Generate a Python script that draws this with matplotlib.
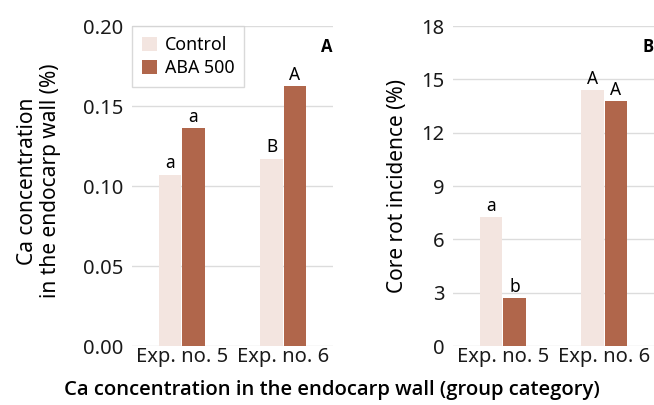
import numpy as np
import matplotlib
matplotlib.use("Agg")
import matplotlib.pyplot as plt

plt.rcParams['font.family'] = ['Noto Sans', 'DejaVu Sans']

# ===============================
# Data
# ===============================
groups = ["Exp. no. 5", "Exp. no. 6"]
series = ["Control", "ABA 500"]
ca_control = [0.107, 0.117]
ca_aba = [0.136, 0.1625]
ca_letters_control = ["a", "B"]
ca_letters_aba = ["a", "A"]
rot_control = [7.27, 14.4]
rot_aba = [2.7, 13.8]
rot_letters_control = ["a", "A"]
rot_letters_aba = ["b", "A"]

c_control = "#F3E5E0"
c_aba = "#B0664B"
grid_c = "#DCDCDC"
w = 0.225


def draw_panel(ax, ctrl, aba, let_c, let_a, ymax, yticks, fmt, offset, tag):
    x = np.arange(len(groups))
    b1 = ax.bar(x - w / 2 - 0.003, ctrl, w, color=c_control, label=series[0], zorder=2)
    b2 = ax.bar(x + w / 2 + 0.003, aba, w, color=c_aba, label=series[1], zorder=2)
    for bars, lets in ((b1, let_c), (b2, let_a)):
        for r, t in zip(bars, lets):
            ax.text(r.get_x() + r.get_width() / 2, r.get_height() + offset, t,
                    ha="center", va="bottom", fontsize=12.5)
    ax.set_xlim(-0.49, 1.49)
    ax.set_ylim(0, ymax)
    ax.set_yticks(yticks)
    ax.set_yticklabels([fmt.format(v) for v in yticks])
    ax.set_xticks(x)
    ax.set_xticklabels(groups)
    ax.grid(axis="y", color=grid_c, linewidth=1, zorder=0)
    for s in ax.spines.values():
        s.set_visible(False)
    ax.tick_params(length=0, labelsize=14.5, colors="#1a1a1a")
    ax.tick_params(axis="y", pad=6)
    ax.tick_params(axis="x", pad=1)
    ax.text(0.97, 0.935, tag, transform=ax.transAxes, ha="center", va="center",
            fontsize=12, fontweight="bold", family="Open Sans")
    return b1, b2


fig = plt.figure(figsize=(6.54, 4.05), dpi=100)
ax1 = fig.add_axes([132 / 654, 1 - 346 / 405, 201 / 654, 320 / 405])
ax2 = fig.add_axes([453 / 654, 1 - 346 / 405, 201 / 654, 320 / 405])

draw_panel(ax1, ca_control, ca_aba, ca_letters_control, ca_letters_aba,
           0.20, [0.0, 0.05, 0.10, 0.15, 0.20], "{:.2f}", 0.0015, "A")
draw_panel(ax2, rot_control, rot_aba, rot_letters_control, rot_letters_aba,
           18, [0, 3, 6, 9, 12, 15, 18], "{:d}", 0.1, "B")

ax1.set_ylabel("Ca concentration\nin the endocarp wall (%)", fontsize=15,
               linespacing=1.1)
ax1.yaxis.set_label_coords(-0.355, 0.515)
ax2.set_ylabel("Core rot incidence (%)", fontsize=15, labelpad=9.5)

leg = ax1.legend(loc="upper left", bbox_to_anchor=(0.0, 1.0), fontsize=12.8,
                 frameon=True, fancybox=False, handlelength=0.85,
                 handleheight=0.85, handletextpad=0.45, borderpad=0.55,
                 labelspacing=0.3, borderaxespad=0.0)
leg.get_frame().set_edgecolor("#D0D0D0")
leg.get_frame().set_linewidth(1)

fig.text(0.507, 0.037, "Ca concentration in the endocarp wall (group category)",
         ha="center", va="center", fontsize=14.6, fontweight="semibold",
         family="Open Sans")

fig.savefig("out.png", dpi=100)
